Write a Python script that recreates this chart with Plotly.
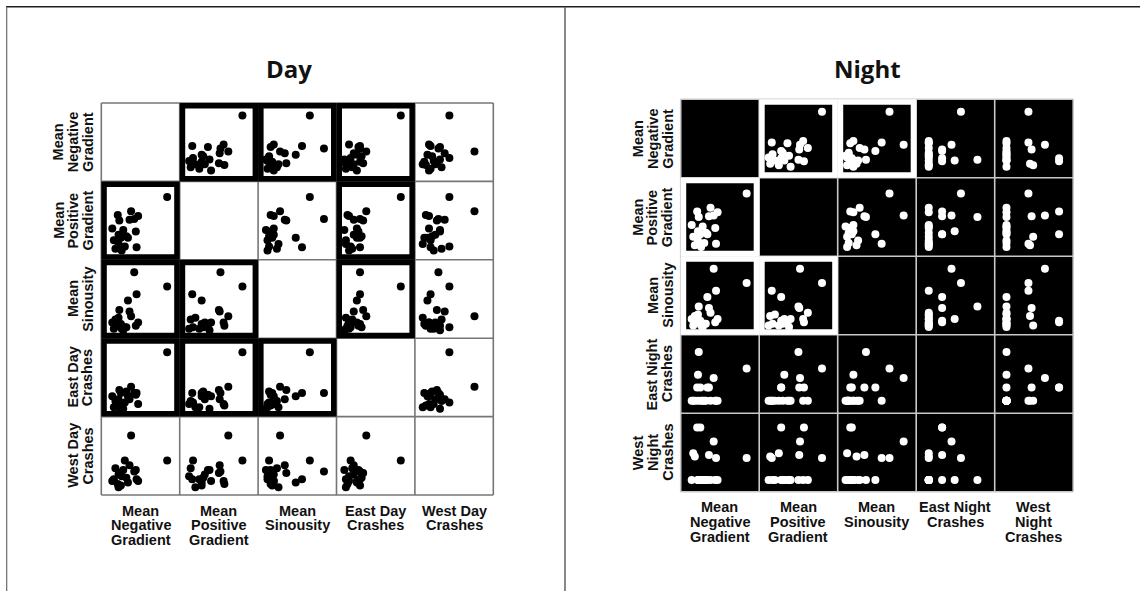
import plotly.graph_objects as go

W, H = 1140, 591

# ---- data: 20 road segments ----
NEG_GRADIENT = [8.4, 4.2, 3.8, 4.5, 3.4, 2.1, 2.3, 4.7, 3.6, 4.4, 3.0, 1.6, 2.2, 2.5, 2.8, 1.8, 3.2, 1.4, 2.6, 2.2]
POS_GRADIENT = [8.0, 5.2, 6.2, 1.6, 2.8, 5.7, 5.0, 5.6, 5.1, 3.6, 1.7, 2.5, 3.2, 2.8, 3.8, 1.4, 3.0, 4.0, 1.2, 2.0]
SINUOSITY = [1.33, 1.42, 1.14, 1.28, 1.24, 1.08, 1.18, 1.10, 1.17, 1.08, 1.07, 1.06, 1.10, 1.09, 1.05, 1.12, 1.07, 1.10, 1.06, 1.13]
EAST_DAY = [41, 15, 19, 15, 13, 7, 17, 8, 11, 14, 9, 6, 11, 15, 5, 10, 16, 13, 8, 6]
WEST_DAY = [22, 15, 38, 10, 8, 7, 14, 9, 19, 16, 22, 10, 13, 6, 16, 17, 11, 9, 12, 5]
EAST_NIGHT = [5.7, 4.5, 1.6, 1.6, 3.3, 3.3, 7.8, 1.6, 3.3, 1.6, 1.6, 1.6, 4.9, 3.3, 1.6, 1.6, 1.6, 1.6, 1.6, 1.6]
WEST_NIGHT = [4.3, 6.4, 1.5, 4.3, 1.5, 8.2, 1.5, 1.5, 4.7, 1.5, 1.5, 4.9, 1.5, 8.2, 1.5, 4.5, 1.5, 1.5, 1.5, 1.5]

RANGE_GRADIENT = [0, 10]
RANGE_SINUOSITY = [1.0, 1.5]
RANGE_DAY = [0, 50]
RANGE_NIGHT = [0, 10]

DAY_LABELS = [["Mean", "Negative", "Gradient"], ["Mean", "Positive", "Gradient"],
              ["Mean", "Sinousity"], ["East Day", "Crashes"], ["West Day", "Crashes"]]
NIGHT_LABELS = [["Mean", "Negative", "Gradient"], ["Mean", "Positive", "Gradient"],
                ["Mean", "Sinousity"], ["East Night", "Crashes"], ["West", "Night", "Crashes"]]

DAY_HIGHLIGHT = [(0, 1), (0, 2), (0, 3), (1, 0), (1, 3), (2, 0), (2, 1), (2, 3), (3, 0), (3, 1), (3, 2)]
NIGHT_HIGHLIGHT = [(0, 1), (0, 2), (1, 0), (2, 0), (2, 1)]


def fx(x):
    return x / W


def fy(y):
    return 1 - y / H


panels = [
    dict(title="Day", title_x=288.5, left=101.3, top=103.0, cell=78.4,
         vars=[NEG_GRADIENT, POS_GRADIENT, SINUOSITY, EAST_DAY, WEST_DAY],
         ranges=[RANGE_GRADIENT, RANGE_GRADIENT, RANGE_SINUOSITY, RANGE_DAY, RANGE_DAY],
         labels=DAY_LABELS, hl=DAY_HIGHLIGHT, bg="white", fg="black", frame="black",
         grid="#767676", col_y0=510.5),
    dict(title="Night", title_x=867.5, left=680.7, top=99.3, cell=78.5,
         vars=[NEG_GRADIENT, POS_GRADIENT, SINUOSITY, EAST_NIGHT, WEST_NIGHT],
         ranges=[RANGE_GRADIENT, RANGE_GRADIENT, RANGE_SINUOSITY, RANGE_NIGHT, RANGE_NIGHT],
         labels=NIGHT_LABELS, hl=NIGHT_HIGHLIGHT, bg="black", fg="white", frame="white",
         grid="#c8c8c8", col_y0=507.0),
]

fig = go.Figure()
shapes = []
annotations = []
layout_axes = {}
k = 0
FW = 5.5  # frame width px
LINE_GAP = 14.8
LABEL_FONT = dict(family="Liberation Sans, Arial, sans-serif", size=14.5, color="#111111")

for p in panels:
    L, T, C = p["left"], p["top"], p["cell"]
    # cell backgrounds
    for i in range(5):
        for j in range(5):
            x0, y0 = L + j * C, T + i * C
            shapes.append(dict(type="rect", xref="paper", yref="paper", layer="below",
                               x0=fx(x0), x1=fx(x0 + C), y0=fy(y0 + C), y1=fy(y0),
                               fillcolor=p["bg"], line=dict(width=0)))
    # grid lines
    for m in range(6):
        shapes.append(dict(type="line", xref="paper", yref="paper", layer="below",
                           x0=fx(L + m * C), x1=fx(L + m * C), y0=fy(T), y1=fy(T + 5 * C),
                           line=dict(color=p["grid"], width=1.6)))
        shapes.append(dict(type="line", xref="paper", yref="paper", layer="below",
                           x0=fx(L), x1=fx(L + 5 * C), y0=fy(T + m * C), y1=fy(T + m * C),
                           line=dict(color=p["grid"], width=1.6)))
    # highlight frames
    for (i, j) in p["hl"]:
        x0, y0 = L + j * C, T + i * C
        h = FW / 2
        shapes.append(dict(type="rect", xref="paper", yref="paper", layer="below",
                           x0=fx(x0 + h), x1=fx(x0 + C - h), y0=fy(y0 + C - h), y1=fy(y0 + h),
                           fillcolor="rgba(0,0,0,0)", line=dict(color=p["frame"], width=FW)))
    # scatter cells
    for i in range(5):
        for j in range(5):
            if i == j:
                continue
            k += 1
            xa = "x" if k == 1 else f"x{k}"
            ya = "y" if k == 1 else f"y{k}"
            x0, y0 = L + j * C, T + i * C
            layout_axes["xaxis" if k == 1 else f"xaxis{k}"] = dict(
                domain=[fx(x0), fx(x0 + C)], range=p["ranges"][j], visible=False,
                anchor=ya, fixedrange=True)
            layout_axes["yaxis" if k == 1 else f"yaxis{k}"] = dict(
                domain=[fy(y0 + C), fy(y0)], range=p["ranges"][i], visible=False,
                anchor=xa, fixedrange=True)
            fig.add_trace(go.Scatter(x=p["vars"][j], y=p["vars"][i], mode="markers",
                                     xaxis=xa, yaxis=ya, showlegend=False, hoverinfo="skip",
                                     marker=dict(size=8, color=p["fg"], line=dict(width=0))))
    # title
    annotations.append(dict(text=f"<b>{p['title']}</b>", x=fx(p["title_x"]), y=fy(68),
                            xref="paper", yref="paper", showarrow=False,
                            xanchor="center", yanchor="middle",
                            font=dict(family="Open Sans, sans-serif", size=24, color="#111111")))
    # column labels
    for j, lines in enumerate(p["labels"]):
        cx = L + j * C + C / 2
        for n, t in enumerate(lines):
            annotations.append(dict(text=f"<b>{t}</b>", x=fx(cx), y=fy(p["col_y0"] + n * LINE_GAP),
                                    xref="paper", yref="paper", showarrow=False,
                                    xanchor="center", yanchor="middle", font=LABEL_FONT))
    # row labels (rotated, last line next to grid)
    for i, lines in enumerate(p["labels"]):
        cy = T + i * C + C / 2
        nl = len(lines)
        for n, t in enumerate(lines):
            lx = L - 13.5 - (nl - 1 - n) * LINE_GAP
            annotations.append(dict(text=f"<b>{t}</b>", x=fx(lx), y=fy(cy), textangle=-90,
                                    xref="paper", yref="paper", showarrow=False,
                                    xanchor="center", yanchor="middle", font=LABEL_FONT))

# outer table lines
shapes.append(dict(type="line", xref="paper", yref="paper", x0=fx(6), x1=fx(1140), y0=fy(6.7), y1=fy(6.7),
                   line=dict(color="#1e1e1e", width=1.4)))
shapes.append(dict(type="line", xref="paper", yref="paper", x0=fx(6.7), x1=fx(6.7), y0=fy(6.7), y1=fy(591),
                   line=dict(color="#6a6a6a", width=1.2)))
shapes.append(dict(type="line", xref="paper", yref="paper", x0=fx(565), x1=fx(565), y0=fy(6.7), y1=fy(591),
                   line=dict(color="#6a6a6a", width=1.6)))

fig.update_layout(width=W, height=H, margin=dict(l=0, r=0, t=0, b=0),
                  paper_bgcolor="white", plot_bgcolor="rgba(0,0,0,0)",
                  shapes=shapes, annotations=annotations, hovermode=False,
                  **layout_axes)

fig.write_html("out.html", config={"displayModeBar": False},
               post_script="document.body.style.margin='0';document.body.style.overflow='hidden';")
